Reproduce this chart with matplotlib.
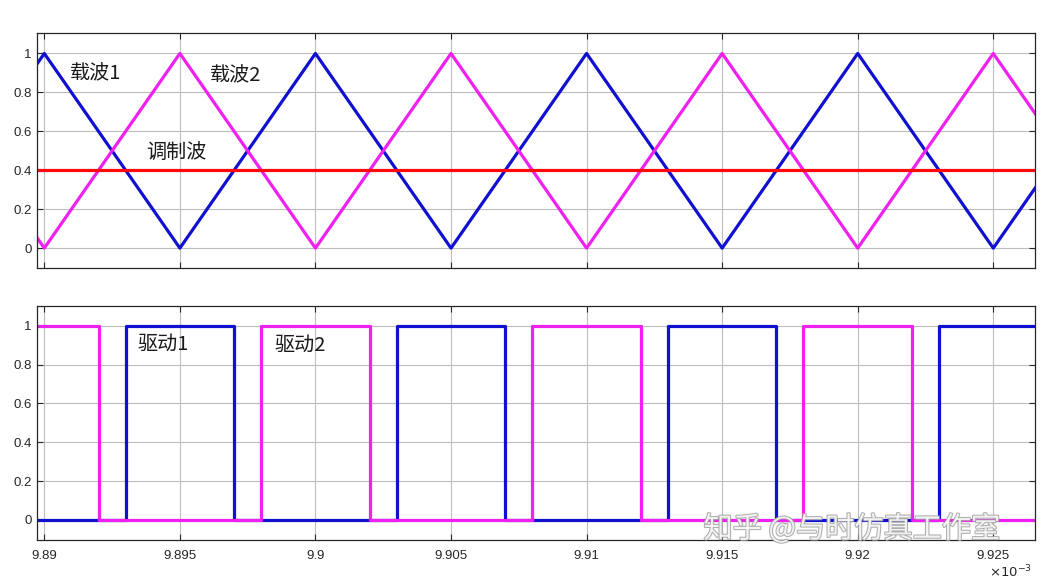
import matplotlib
matplotlib.use("Agg")
import matplotlib.pyplot as plt
import matplotlib.patheffects as pe

plt.rcParams['font.family'] = ['Liberation Sans', 'Noto Sans CJK SC', 'DejaVu Sans']

# time axis in units of 1e-3 s
carrier_t = [9.885, 9.89, 9.895, 9.9, 9.905, 9.91, 9.915, 9.92, 9.925, 9.93]
carrier1 = [0, 1, 0, 1, 0, 1, 0, 1, 0, 1]
carrier2 = [1, 0, 1, 0, 1, 0, 1, 0, 1, 0]
mod_t = [9.885, 9.93]
mod_v = [0.4, 0.4]

drive1_t = [9.885, 9.893, 9.897, 9.903, 9.907, 9.913, 9.917, 9.923, 9.93]
drive1 = [0, 1, 0, 1, 0, 1, 0, 1, 1]
drive2_t = [9.885, 9.892, 9.898, 9.902, 9.908, 9.912, 9.918, 9.922, 9.93]
drive2 = [1, 0, 1, 0, 1, 0, 1, 0, 0]

xticks = [9.89, 9.895, 9.9, 9.905, 9.91, 9.915, 9.92, 9.925]
xtick_labels = ['9.89', '9.895', '9.9', '9.905', '9.91', '9.915', '9.92', '9.925']
yticks = [0, 0.2, 0.4, 0.6, 0.8, 1]
ytick_labels = ['0', '0.2', '0.4', '0.6', '0.8', '1']

blue = '#1010d0'
magenta = '#f020f0'
red = '#ff0a0a'
cjk = ['Noto Sans CJK SC', 'DejaVu Sans']

fig = plt.figure(figsize=(10.58, 5.8), dpi=100)
ax1 = fig.add_axes([0.0347, 0.5376, 0.9436, 0.4048])
ax2 = fig.add_axes([0.0347, 0.069, 0.9436, 0.404])

for ax in (ax1, ax2):
    ax.set_xlim(9.88972, 9.92654)
    ax.set_ylim(-0.103, 1.103)
    ax.set_xticks(xticks)
    ax.set_yticks(yticks)
    ax.set_yticklabels(ytick_labels)
    ax.grid(True, color='#bdbdbd', linewidth=0.8)
    ax.set_axisbelow(True)
    ax.tick_params(direction='in', top=True, right=True, length=4, width=0.8,
                   labelsize=9.5, labelcolor='#262626', color='#262626')
    ax.tick_params(axis='x', pad=7)
    for s in ax.spines.values():
        s.set_linewidth(0.9)
        s.set_color('#262626')

ax1.set_xticklabels([])
ax2.set_xticklabels(xtick_labels)

ax1.plot(carrier_t, carrier1, color=blue, lw=2.3)
ax1.plot(carrier_t, carrier2, color=magenta, lw=2.3)
ax1.plot(mod_t, mod_v, color=red, lw=2.3)

ax2.step(drive1_t, drive1, where='post', color=blue, lw=2.3)
ax2.step(drive2_t, drive2, where='post', color=magenta, lw=2.3)

fs = 14.5
ax1.text(9.89095, 0.893, '载波1', family=cjk, fontsize=fs, va='center', color='#1a1a1a')
ax1.text(9.89611, 0.883, '载波2', family=cjk, fontsize=fs, va='center', color='#1a1a1a')
ax1.text(9.89374, 0.494, '调制波', family=cjk, fontsize=fs, va='center', color='#1a1a1a')
ax2.text(9.89345, 0.904, '驱动1', family=cjk, fontsize=fs, va='center', color='#1a1a1a')
ax2.text(9.89849, 0.900, '驱动2', family=cjk, fontsize=fs, va='center', color='#1a1a1a')

fig.text(0.9755, 0.0, r'$\times10^{-3}$', fontsize=9.5, ha='right', va='bottom', color='#262626')

wm = fig.text(0.665, 0.087, '知乎 @与时仿真工作室', family=cjk, fontsize=21,
              color='white', alpha=0.85, va='center', ha='left')
wm.set_path_effects([pe.withStroke(linewidth=1.5, foreground='#a0a0a0')])

fig.savefig('out.png', dpi=100)
